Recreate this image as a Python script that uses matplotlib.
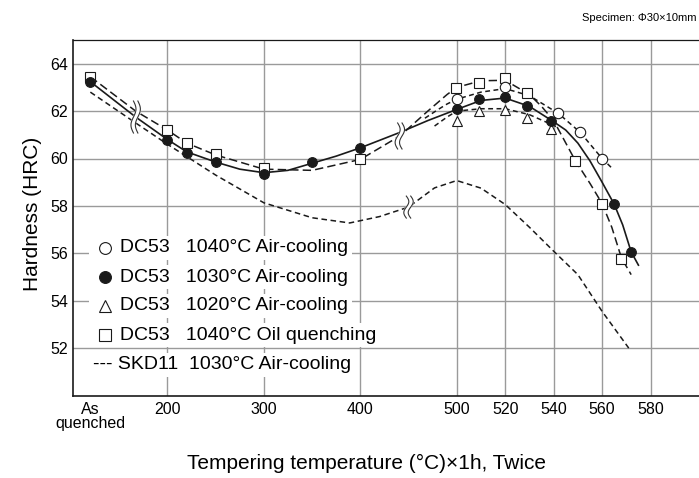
import numpy as np
import matplotlib
matplotlib.use('Agg')
import matplotlib.pyplot as plt
import matplotlib.transforms as mtransforms

plt.rcParams['font.family'] = ['Liberation Sans', 'DejaVu Sans']
plt.rcParams['lines.scale_dashes'] = False

# x position used for the "As quenched" column
AQ = 120

# measured points (markers)
c1040_air_T = [500, 520, 542, 551, 560]
c1040_air_H = [62.5, 63.0, 61.9, 61.1, 60.0]

c1030_air_T = [AQ, 200, 220, 250, 300, 350, 400, 500, 509, 520, 529, 539, 565, 572]
c1030_air_H = [63.24, 60.8, 60.24, 59.85, 59.35, 59.85, 60.45, 62.07, 62.5, 62.59, 62.21, 61.58, 58.09, 56.06]

c1020_air_T = [500, 509, 520, 529, 539]
c1020_air_H = [61.6, 62.0, 62.03, 61.7, 61.23]

c1040_oil_T = [AQ, 200, 220, 250, 300, 400, 499, 509, 520, 529, 549, 560, 568]
c1040_oil_H = [63.45, 61.19, 60.66, 60.17, 59.6, 59.96, 62.96, 63.2, 63.41, 62.75, 59.89, 58.1, 55.78]

# curves
c1040_air_line_T = [467, 480, 490, 500, 510, 520, 530, 542, 551, 560, 564]
c1040_air_line_H = [61.7, 62.05, 62.3, 62.5, 62.8, 62.95, 62.65, 61.9, 61.1, 60.0, 59.6]

c1030_air_line_T = [AQ, 167, 200, 220, 250, 275, 300, 325, 350, 375, 400, 441, 470, 500, 510, 520, 530,
                    540, 545, 550, 555, 560, 565, 568.5, 572, 575]
c1030_air_line_H = [63.24, 61.75, 60.8, 60.28, 59.85, 59.55, 59.4, 59.5, 59.8, 60.1, 60.45, 61.1, 61.6, 62.07, 62.45, 62.55, 62.2,
                    61.55, 61.2, 60.65, 59.9, 59.0, 58.07, 57.2, 56.06, 55.5]

c1020_air_line_T = [477, 490, 500, 510, 520, 530, 541]
c1020_air_line_H = [61.37, 61.75, 62.0, 62.1, 62.1, 61.85, 61.35]

c1040_oil_line_T = [AQ, 167, 200, 220, 250, 300, 350, 400, 441, 470, 490, 500, 510, 520, 530, 535, 540, 549, 555,
                    560, 564, 568, 572]
c1040_oil_line_H = [63.45, 62.0, 61.2, 60.65, 60.15, 59.55, 59.5, 59.96, 60.95, 62.0, 62.7, 63.0, 63.28, 63.3, 62.7, 62.2, 61.6, 59.9, 58.95,
                    58.1, 57.1, 55.8, 55.1]

skd11_T = [AQ, 167, 200, 250, 300, 350, 389, 420, 450, 477, 500, 510, 520, 530, 540, 550, 560, 571]
skd11_H = [62.8, 61.5, 60.6, 59.3, 58.13, 57.5, 57.28, 57.55, 57.95, 58.76, 59.07, 58.75, 58.06, 57.1, 56.09, 55.1, 53.55, 52.0]

xtick_T = [AQ, 200, 300, 400, 500, 520, 540, 560, 580]
xtick_labels = ['As\nquenched', '200', '300', '400', '500', '520', '540', '560', '580']
ytick_H = [52, 54, 56, 58, 60, 62, 64]

legend_labels = ['DC53   1040°C Air-cooling',
                 'DC53   1030°C Air-cooling',
                 'DC53   1020°C Air-cooling',
                 'DC53   1040°C Oil quenching',
                 '--- SKD11  1030°C Air-cooling']

# break marks (T, HRC, height px)
breaks = [(167, 61.75, 32), (441, 60.95, 26), (450, 57.95, 22)]


def fwd(t):
    t = np.asarray(t, float)
    return np.where(t < 500, (t - 500) * 0.965, (t - 500) * 2.425)


def inv(p):
    p = np.asarray(p, float)
    return np.where(p < 0, p / 0.965 + 500, p / 2.425 + 500)


def draw_break(ax, fig, x, y, h):
    trans = fig.dpi_scale_trans + mtransforms.ScaledTranslation(x, y, ax.transData)
    t = np.linspace(-1, 1, 40)
    yy = t * h / 2 / 100.0
    xx = 2.5 * np.sin(np.pi * t) / 100.0
    g = 2.2 / 100.0
    ax.fill(np.concatenate([xx - g, (xx + g)[::-1]]), np.concatenate([yy, yy[::-1]]),
            color='white', transform=trans, zorder=6, clip_on=False)
    ax.plot(xx - g, yy, color='#333333', lw=0.8, transform=trans, zorder=7)
    ax.plot(xx + g, yy, color='#333333', lw=0.8, transform=trans, zorder=7)


fig = plt.figure(figsize=(6.99, 4.78), dpi=100)
ax = fig.add_axes([73 / 699, 1 - 395.5 / 478, 626 / 699, 355.5 / 478])
ax.set_xscale('function', functions=(fwd, inv))
ax.set_xlim(102, 600)
ax.set_ylim(50, 65)

lc = '#1a1a1a'
ax.plot(skd11_T, skd11_H, color=lc, lw=1.1, dashes=(4, 2.6), zorder=3)
ax.plot(c1040_oil_line_T, c1040_oil_line_H, color=lc, lw=1.1, dashes=(6, 3), zorder=3)
ax.plot(c1040_air_line_T, c1040_air_line_H, color=lc, lw=1.1, dashes=(3.5, 2.5), zorder=3)
ax.plot(c1020_air_line_T, c1020_air_line_H, color=lc, lw=1.1, dashes=(3.5, 2.5), zorder=3)
ax.plot(c1030_air_line_T, c1030_air_line_H, color=lc, lw=1.2, zorder=3)

for x, y, h in breaks:
    draw_break(ax, fig, x, y, h)

mk = dict(ls='none', mec=lc, mew=0.8, zorder=8)
ax.plot(c1040_oil_T, c1040_oil_H, marker='s', ms=7, mfc='white', **mk)
ax.plot(c1040_air_T, c1040_air_H, marker='o', ms=7.5, mfc='white', **mk)
ax.plot(c1020_air_T, c1020_air_H, marker='^', ms=7.5, mfc='white', **mk)
ax.plot(c1030_air_T, c1030_air_H, marker='o', ms=7, mfc=lc, **mk)

# grid: vertical lines only at the numbered temperatures (none at As quenched)
ax.set_xticks(xtick_T)
ax.set_xticklabels(xtick_labels)
ax.xaxis.remove_overlapping_locs = False
ax.set_xticks(xtick_T[1:], minor=True)
ax.set_yticks(ytick_H)
ax.grid(which='minor', axis='x', color='#9a9a9a', lw=1.0, zorder=0)
ax.grid(which='major', axis='y', color='#9a9a9a', lw=1.0, zorder=0)
ax.set_axisbelow(True)
ax.tick_params(which='both', length=0)
ax.tick_params(axis='y', labelsize=11.5, pad=3.6)
ax.tick_params(axis='x', labelsize=11.5, pad=5)
ax.get_xticklabels()[0].set_linespacing(0.85)

for s in ['left', 'bottom', 'top']:
    ax.spines[s].set_color(lc)
    ax.spines[s].set_linewidth(1.2)
ax.spines['top'].set_linewidth(0.9)
ax.spines['right'].set_visible(False)

ax.set_xlabel('Tempering temperature (°C)×1h, Twice', fontsize=15)
ax.xaxis.set_label_coords(0.4696, -0.163)
ax.set_ylabel('Hardness (HRC)', fontsize=15)
ax.yaxis.set_label_coords(-0.0495, 0.51)

# legend drawn by hand so each row cuts the grid like the original
rows_y = [0.415, 0.333, 0.252, 0.170, 0.0858]
leg_markers = [('o', 'white'), ('o', lc), ('^', 'white'), ('s', 'white')]
for i, lab in enumerate(legend_labels):
    if i < 4:
        txt = '     ' + lab
    else:
        txt = lab
    ax.text(0.032, rows_y[i], txt, transform=ax.transAxes, fontsize=14, va='center', ha='left',
            zorder=9, bbox=dict(facecolor='white', edgecolor='none', pad=2.6))
for i, (m, fc) in enumerate(leg_markers):
    ms = 8.5 if m != 's' else 8
    ax.plot([0.0511], [rows_y[i]], marker=m, ms=ms, mfc=fc, mec=lc, mew=0.8,
            transform=ax.transAxes, zorder=10, ls='none')

fig.text(0.997, 1 - 18 / 478, 'Specimen: Φ30×10mm', fontsize=8, ha='right', va='center')

fig.savefig('out.png', dpi=100)
